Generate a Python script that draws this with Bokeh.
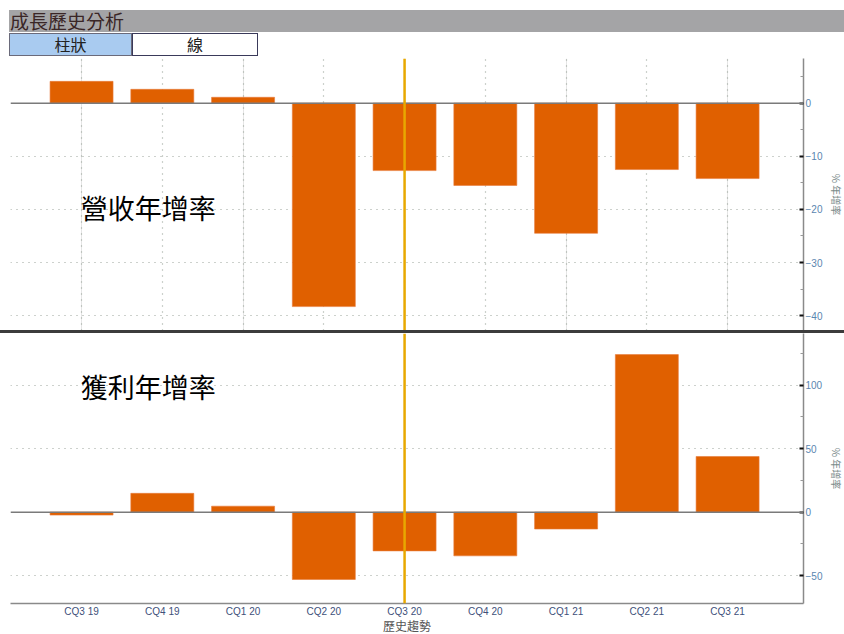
from bokeh.plotting import figure
from bokeh.layouts import column
from bokeh.models import (Range1d, FixedTicker, Span, Label, Div, Grid, ColumnDataSource)
from bokeh.embed import file_html
from bokeh.resources import INLINE

# Quarterly year-over-year growth (%)
quarters = ["CQ3 19", "CQ4 19", "CQ1 20", "CQ2 20", "CQ3 20", "CQ4 20", "CQ1 21", "CQ2 21", "CQ3 21"]
revenue_yoy = [4.1, 2.6, 1.1, -38.3, -12.7, -15.5, -24.5, -12.5, -14.2]
profit_yoy = [-2.3, 14.8, 4.7, -53.0, -30.5, -34.4, -13.3, 124.0, 43.8]

# axis tick sets
rev_ticks = [-40, -30, -20, -10, 0]
rev_minor = [-45, -35, -25, -15, -5, 5]
prof_ticks = [-50, 0, 50, 100]
prof_minor = [-75, -25, 25, 75, 125]
marker_quarter = "CQ3 20"

BAR = "#e06000"
MARKER = "#e8a800"
CJK = "Noto Sans CJK TC"
idx = list(range(len(quarters)))
x_range = Range1d(-0.88, len(quarters) - 0.06)


def make_panel(values, y_lo, y_hi, ticks, minor, name, name_y, frame_h, with_x_axis):
    p = figure(frame_width=793, frame_height=frame_h,
               x_range=x_range, y_range=Range1d(y_lo, y_hi),
               x_axis_location="below" if with_x_axis else None,
               y_axis_location="right", output_backend="svg",
               toolbar_location=None, min_border_left=10, min_border_right=0,
               min_border_top=0, min_border_bottom=0)
    p.outline_line_color = None
    p.background_fill_color = "white"
    p.border_fill_color = "white"

    # grids
    p.ygrid.ticker = FixedTicker(ticks=[t for t in ticks if t != 0])
    p.ygrid.grid_line_color = "#9aa39a"
    p.ygrid.grid_line_dash = "1 5"
    p.ygrid.grid_line_width = 1.2
    vgrid = Grid(dimension=0, ticker=FixedTicker(ticks=idx),
                 grid_line_color="#9aa39a", grid_line_dash="1 5", grid_line_width=1.2)
    p.add_layout(vgrid)
    if with_x_axis:
        p.xgrid.visible = False

    # zero line
    p.add_layout(Span(location=0, dimension="width", line_color="#7a7a7a", line_width=1.5))

    src = ColumnDataSource(dict(x=idx, v=values))
    p.vbar(x="x", top="v", bottom=0, width=0.78, source=src,
           fill_color=BAR, line_color="#e87a3a", line_width=0.6)

    # current-quarter marker
    p.add_layout(Span(location=quarters.index(marker_quarter), dimension="height",
                      line_color=MARKER, line_width=2.5))

    # panel name
    p.add_layout(Label(x=-0.01, y=name_y, text=name, text_font=CJK, text_font_size="27px",
                       text_color="#000000", text_baseline="middle", text_align="left"))

    # right axis
    ax = p.yaxis[0]
    ax.ticker = FixedTicker(ticks=ticks, minor_ticks=minor)
    ax.major_tick_in = 4
    ax.major_tick_out = 0
    ax.major_tick_line_color = "#111111"
    ax.major_tick_line_width = 2
    ax.minor_tick_in = 3
    ax.minor_tick_out = 0
    ax.minor_tick_line_color = "#999999"
    ax.axis_line_color = "#8a8a8a"
    ax.axis_line_width = 1.5
    ax.major_label_text_font = "Liberation Sans"
    ax.major_label_text_font_size = "10px"
    ax.major_label_text_color = "#5a86b0"
    ax.major_label_standoff = 2
    ax.axis_label = "% 年增率"
    ax.axis_label_orientation = "vertical"
    ax.axis_label_text_font = CJK
    ax.axis_label_text_font_size = "10px"
    ax.axis_label_text_font_style = "normal"
    ax.axis_label_text_color = "#7a8a8a"
    ax.axis_label_standoff = 4

    if with_x_axis:
        xa = p.xaxis[0]
        xa.ticker = FixedTicker(ticks=idx)
        xa.major_label_overrides = {i: q for i, q in enumerate(quarters)}
        xa.major_tick_in = 0
        xa.major_tick_out = 0
        xa.minor_tick_in = 0
        xa.minor_tick_out = 0
        xa.axis_line_color = "#8a8a8a"
        xa.axis_line_width = 1.5
        xa.major_label_text_font = "Liberation Sans"
        xa.major_label_text_font_size = "10px"
        xa.major_label_text_color = "#40507a"
        xa.major_label_standoff = 2
        xa.axis_label = "歷史趨勢"
        xa.axis_label_text_font = CJK
        xa.axis_label_text_font_size = "12px"
        xa.axis_label_text_font_style = "normal"
        xa.axis_label_text_color = "#555555"
        xa.axis_label_text_line_height = 1.0
        xa.axis_label_standoff = -3
    return p


top = make_panel(revenue_yoy, -42.8, 8.4, rev_ticks, rev_minor, "營收年增率", -19.6, 272, False)
bottom = make_panel(profit_yoy, -71.9, 140.6, prof_ticks, prof_minor, "獲利年增率", 99, 270, True)

header = Div(text="""
<div style="position:relative;width:844px;height:58px;font-family:'Noto Sans CJK TC';background:white;">
  <div style="position:absolute;left:9px;top:10px;width:835px;height:22px;background:#a4a4a6;"></div>
  <div style="position:absolute;left:10px;top:8px;color:#3a2626;font-size:19px;line-height:26px;">成長歷史分析</div>
  <div style="position:absolute;left:9px;top:33px;width:123px;height:23px;background:#a9cbf0;
              border:1px solid #6a6a7a;box-sizing:border-box;"></div>
  <div style="position:absolute;left:9px;top:32px;width:123px;text-align:center;font-size:16px;line-height:24px;color:#222;">柱狀</div>
  <div style="position:absolute;left:132px;top:33px;width:126px;height:23px;background:white;
              border:1.5px solid #3a3a5a;box-sizing:border-box;"></div>
  <div style="position:absolute;left:132px;top:32px;width:126px;text-align:center;font-size:16px;line-height:24px;color:#222;">線</div>
</div>""", width=844, height=58, margin=(0, 0, 0, 0))

separator = Div(text="", width=844, height=3, margin=(0, 0, 0, 0),
                styles={"background-color": "#3c3c3c"})

layout = column(header, top, separator, bottom, spacing=0)

open("out.html", "w").write(file_html(layout, INLINE))
